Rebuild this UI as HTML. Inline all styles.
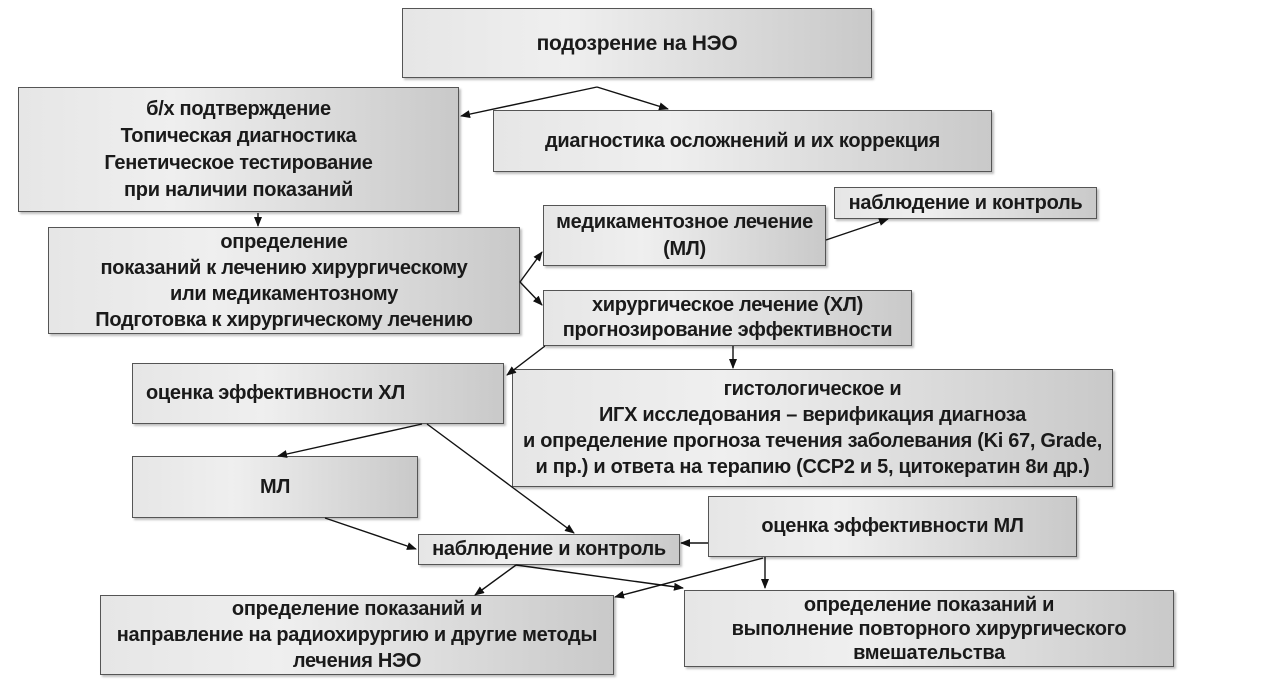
<!DOCTYPE html>
<html><head><meta charset="utf-8"><style>
body{margin:0;width:1280px;height:691px;background:#fff;position:relative;overflow:hidden;font-family:"Liberation Sans","DejaVu Sans",sans-serif;}
.b{position:absolute;box-sizing:border-box;border:1.5px solid #555;background:linear-gradient(to right,#e6e6e6,#efefef 35%,#c9c9c9);box-shadow:2px 2px 2px rgba(0,0,0,0.25);display:flex;align-items:center;justify-content:center;text-align:center;font-weight:bold;font-size:20px;line-height:25px;color:#1a1a1a;letter-spacing:-0.3px;white-space:nowrap;}
svg{position:absolute;left:0;top:0}
</style></head><body>
<div class="b" style="left:402px;top:8px;width:470px;height:70px;font-size:21px">подозрение на НЭО</div>
<div class="b" style="left:18px;top:87px;width:441px;height:125px;line-height:27px">б/х подтверждение<br>Топическая диагностика<br>Генетическое тестирование<br>при наличии показаний</div>
<div class="b" style="left:493px;top:110px;width:499px;height:62px">диагностика осложнений и их коррекция</div>
<div class="b" style="left:48px;top:227px;width:472px;height:107px;line-height:26px">определение<br>показаний к лечению хирургическому<br>или медикаментозному<br>Подготовка к хирургическому лечению</div>
<div class="b" style="left:543px;top:205px;width:283px;height:61px;line-height:27px">медикаментозное лечение<br>(МЛ)</div>
<div class="b" style="left:834px;top:187px;width:263px;height:32px">наблюдение и контроль</div>
<div class="b" style="left:543px;top:290px;width:369px;height:56px">хирургическое лечение (ХЛ)<br>прогнозирование эффективности</div>
<div class="b" style="left:132px;top:363px;width:372px;height:61px;justify-content:flex-start;padding-left:13px">оценка эффективности ХЛ</div>
<div class="b" style="left:512px;top:369px;width:601px;height:118px;line-height:26px">гистологическое и<br>ИГХ исследования – верификация диагноза<br>и определение прогноза течения заболевания (Ki 67, Grade,<br>и пр.) и ответа на терапию (ССР2 и 5, цитокератин 8и др.)</div>
<div class="b" style="left:132px;top:456px;width:286px;height:62px">МЛ</div>
<div class="b" style="left:708px;top:496px;width:369px;height:61px">оценка эффективности МЛ</div>
<div class="b" style="left:418px;top:534px;width:262px;height:31px">наблюдение и контроль</div>
<div class="b" style="left:100px;top:595px;width:514px;height:80px;line-height:26px">определение показаний и<br>направление на радиохирургию и другие методы<br>лечения НЭО</div>
<div class="b" style="left:684px;top:590px;width:490px;height:77px;line-height:24px">определение показаний и<br>выполнение повторного хирургического<br>вмешательства</div>
<svg width="1280" height="691">
<defs><marker id="a" markerWidth="10" markerHeight="8" refX="9" refY="4" orient="auto" markerUnits="userSpaceOnUse"><path d="M0,0L10,4L0,8z" fill="#111"/></marker></defs>
<g stroke="#111" stroke-width="1.4" fill="none" marker-end="url(#a)">
<line x1="597" y1="87" x2="461" y2="116"/>
<line x1="597" y1="87" x2="668" y2="109"/>
<line x1="258" y1="213" x2="258" y2="226"/>
<line x1="520" y1="282" x2="542" y2="252"/>
<line x1="520" y1="282" x2="542" y2="305"/>
<line x1="826" y1="240" x2="888" y2="219"/>
<line x1="545" y1="346" x2="507" y2="375"/>
<line x1="733" y1="346" x2="733" y2="368"/>
<line x1="422" y1="424" x2="278" y2="456"/>
<line x1="427" y1="424" x2="574" y2="533"/>
<line x1="325" y1="518" x2="416" y2="549"/>
<line x1="708" y1="543" x2="681" y2="543"/>
<line x1="516" y1="565" x2="475" y2="595"/>
<line x1="516" y1="565" x2="683" y2="588"/>
<line x1="765" y1="557" x2="765" y2="588"/>
<line x1="763" y1="558" x2="615" y2="597"/>
</g></svg>
</body></html>
